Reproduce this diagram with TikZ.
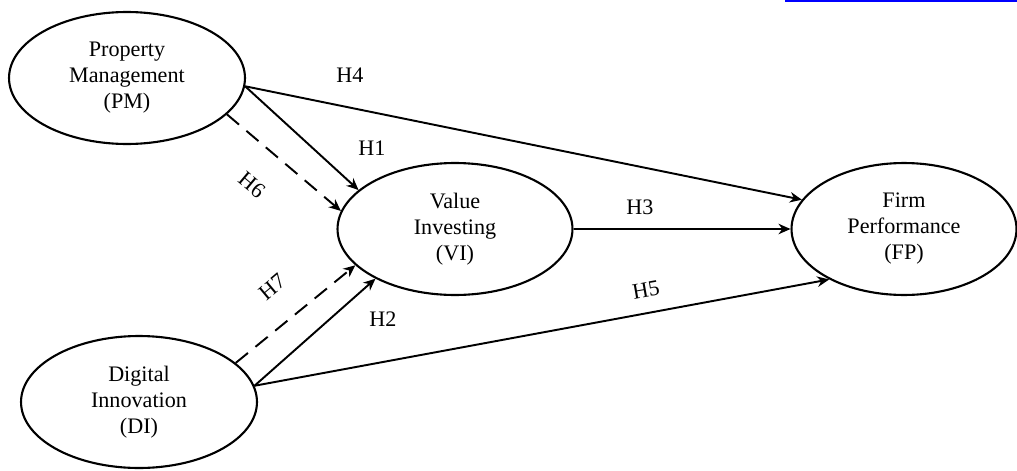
\documentclass[tikz,border=0pt]{standalone}
\usepackage{fontspec}
\setmainfont{Liberation Serif}
\usetikzlibrary{positioning,arrows.meta,shapes.geometric}
\tikzset{
  cons/.style={ellipse,draw=black,line width=1.2pt,minimum width=4.72cm,minimum height=2.64cm,
    inner sep=0pt,align=center,font=\fontsize{12.6}{14.8}\selectfont},
  hyp/.style={-{Stealth[length=2.4mm,width=2.1mm]},line width=1.1pt},
  hypd/.style={hyp,dash pattern=on 9pt off 5.5pt},
  hlbl/.style={font=\fontsize{12.6}{14.8}\selectfont,inner sep=1pt},
}
\begin{document}
\begin{tikzpicture}[x=0.02cm,y=-0.02cm]
  \useasboundingbox (0,0) rectangle (1017,470);
  \fill[blue] (785,0) rectangle (1017,2);
  % constructs
  \node[cons] (PM) at (127,78) {Property\\Management\\(PM)};
  \node[cons] (DI) at (139,402) {Digital\\Innovation\\(DI)};
  \node[cons,minimum width=4.7cm] (VI) at (455,229) {Value\\Investing\\(VI)};
  \node[cons,minimum width=4.5cm] (FP) at (904,229) {Firm\\Performance\\(FP)};
  % hypotheses
  \draw[hyp] (PM.-4) -- (FP.164.6);
  \draw[hyp] (PM.-4) -- (VI.158);
  \draw[hypd] (PM.-20) -- (VI.171);
  \draw[hypd] (DI.22) -- (VI.200);
  \draw[hyp] (DI.8.6) -- (VI.212);
  \draw[hyp] (DI.8.6) -- (FP.214.4);
  \draw[hyp] (VI.0) -- (FP.180);
  \node[hlbl] (h4) at (350,75) {H4};
  \node[hlbl] (h1) at (372,148) {H1};
  \node[hlbl,rotate=-40] (h6) at (252,185) {H6};
  \node[hlbl,rotate=40] (h7) at (272,287) {H7};
  \node[hlbl] (h2) at (383,319) {H2};
  \node[hlbl] (h3) at (640,207) {H3};
  \node[hlbl,rotate=10] (h5) at (646,290) {H5};
\end{tikzpicture}
\end{document}
